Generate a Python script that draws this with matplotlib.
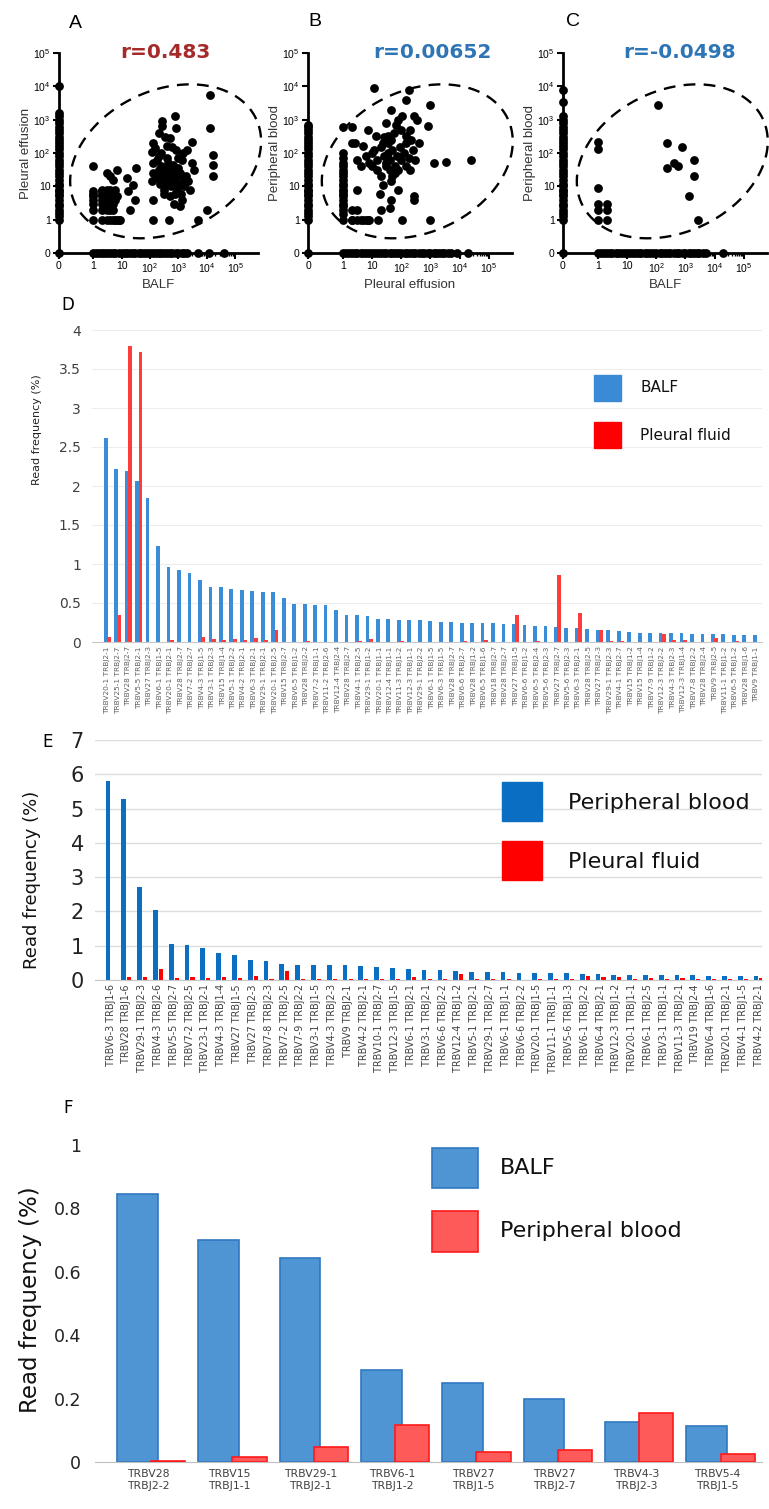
import numpy as np
import matplotlib
matplotlib.use('Agg')
import matplotlib.pyplot as plt
from matplotlib.patches import Rectangle

plt.rcParams['mathtext.fontset'] = 'custom'
plt.rcParams['mathtext.rm'] = 'Liberation Sans'
plt.rcParams['mathtext.it'] = 'Liberation Sans:italic'
plt.rcParams['mathtext.bf'] = 'Liberation Sans:bold'

# ---------------- data: scatter panels (read counts) ----------------
# Panel A: BALF (x) vs Pleural effusion (y)
A_x = [1,1,1,1,1,1,1,1, 2,2,2,2,2,2,2,2, 3,3,3,3,3,3,3,3,3, 4,4,4,4,4,4,4,4,4,
       5,5,5,5,5,5, 6,6,6, 7,7,7, 8, 9,
       15,33,26,17,30,20,
       130,120,200,130,130,120,130,130,270,270,750,850,500,390,250,170,
       580,1300,1500,3000,3500,3000,13000,13000,17000,17000,17000,10000,5000,450,1150,
       200,250,300,350,400,450,500,550,600,700,800,900,1000,1100,1200,1400,1600,1800,
       250,180,220,320,380,420,650,750,950,1300,2200,2500,700,500,300,
       800,600,400,150,1000,2000,350,200]
A_y = [1,2,3,4,5,6,7,40, 1,2,3,4,5,6,7,8, 1,2,3,4,5,6,7,8,25, 1,2,3,4,5,6,7,8,20,
       1,2,3,5,7,15, 1,4,8, 1,5,30, 1, 1,
       18,35,11,7,4,2,
       200,110,80,50,25,14,4,1,630,900,1250,560,280,160,100,60,
       40,63,100,220,30,50,5600,560,90,45,20,2,1,1,2.5,
       30,20,15,25,12,18,22,10,30,15,20,8,12,25,6,15,10,20,
       40,18,12,8,35,50,45,6,35,4,14,8,3,5,6,
       120,150,70,140,70,120,300,400]
A_x0_y = [1,1.3,1.6,2,2.5,3,4,5,6,7,8,10,12,15,20,25,30,40,50,60,80,100,130,160,
          200,250,300,400,500,600,800,1000,1300,1600,10000]
A_y0_x = [0,1,1.3,1.6,2,2.5,3,4,5,6,8,10,13,16,20,25,30,40,50,60,80,100,130,160,200,
          250,300,400,500,600,800,1000,1300,1600,2000,5000,12000,40000]

# Panel B: Pleural effusion (x) vs Peripheral blood (y)
B_x = [1,1,1,1,1,1,1,1,1,1,1,1,1,1,1,1,1,1,1,1,1, 2,2,2,2, 3,3,
       2,3,4,5,6,7,8,16,110,1000, 20,40,280,280,
       12,190,140,1000,44,110,280,360,800,
       7,14,34,57,100,140,210,2.5,5,12,23,34,410,
       1300,3400,25000, 20,23,44,18,44,75,
       3,4,6,8,10,15,20,25,30,40,50,60,70,80,90,100,120,150,180,200,250,300,
       40,50,60,30,15,10,35,45,25,150,200,65,30,80]
B_y = [1,1.5,2,2.5,3,4,5,6,7,8,10,12,15,20,25,30,40,50,70,100,600, 1,2,200,600, 8,2,
       1,1,1,1,1,1,1,1,1,1, 2,2.2,4,5,
       8900,8000,4000,2800,2000,1260,1260,1000,630,
       500,320,320,400,500,320,250,200,160,125,200,100,200,
       50,55,60, 20,11,14,6,4,8,
       60,40,80,50,100,60,150,80,50,60,120,40,80,30,150,60,100,40,70,30,120,60,
       30,20,25,40,30,40,200,250,300,200,500,700,800,1000]
B_x0_y = [0,1,1.3,1.6,2,2.5,3,4,5,6,7,8,10,12,15,20,25,30,40,50,60,80,100,130,160,
          200,250,300,400,500,600,700]
B_y0_x = [1,1.3,1.6,2,2.5,3,4,5,6,8,10,13,16,20,25,30,40,50,60,80,100,130,160,200,
          250,300,400,500,600,800,1000,1300,1600,2000,2500,3000,4000,5000,8000,20000]

# Panel C: BALF (x) vs Peripheral blood (y)
C_x = [1,1,1,1,1,1, 2,2,2, 115,240,750,240,420,560,2050,2050,1330,2700]
C_y = [220,130,9,3,2,1, 3,2,1, 2800,200,150,35,50,42,60,20,5,1]
C_x0_y = [0,1,1.3,1.6,2,2.5,3,4,5,6,7,8,10,12,15,20,25,30,40,50,60,80,100,130,160,
          200,250,300,400,500,600,800,1000,1300,3500,8000]
C_y0_x = [1,1.3,1.6,2,2.5,3,4,5,6,8,10,13,16,20,25,30,40,50,60,80,100,130,160,200,
          250,300,400,500,600,800,1000,1300,1600,2000,2500,3000,4000,5000,20000]

# ---------------- data: panel D ----------------
D_labels = ["TRBV20-1 TRBJ2-1","TRBV25-1 TRBJ2-7","TRBV28 TRBJ2-7","TRBV5-5 TRBJ2-1",
    "TRBV27 TRBJ2-3","TRBV6-1 TRBJ1-5","TRBV20-1 TRBJ2-1","TRBV28 TRBJ2-7","TRBV7-2 TRBJ2-7",
    "TRBV4-3 TRBJ1-5","TRBV3-1 TRBJ2-3","TRBV15 TRBJ1-4","TRBV5-1 TRBJ2-2","TRBV4-2 TRBJ2-1",
    "TRBV6-3 TRBJ2-1","TRBV29-1 TRBJ2-1","TRBV20-1 TRBJ2-5","TRBV15 TRBJ2-7","TRBV6-5 TRBJ1-2",
    "TRBV28 TRBJ2-2","TRBV7-2 TRBJ1-1","TRBV11-2 TRBJ2-6","TRBV12-4 TRBJ2-4","TRBV28 TRBJ2-7",
    "TRBV4-1 TRBJ2-5","TRBV29-1 TRBJ1-2","TRBV20-1 TRBJ1-1","TRBV12-4 TRBJ1-1","TRBV11-3 TRBJ1-2",
    "TRBV12-3 TRBJ1-1","TRBV29-1 TRBJ2-2","TRBV6-1 TRBJ1-5","TRBV6-3 TRBJ1-5","TRBV28 TRBJ2-7",
    "TRBV6-6 TRBJ2-7","TRBV28 TRBJ1-2","TRBV6-5 TRBJ1-6","TRBV18 TRBJ2-7","TRBV28 TRBJ2-7",
    "TRBV27 TRBJ1-5","TRBV6-6 TRBJ1-2","TRBV6-5 TRBJ2-4","TRBV5-6 TRBJ2-3","TRBV27 TRBJ2-7",
    "TRBV5-6 TRBJ2-3","TRBV6-3 TRBJ2-1","TRBV28 TRBJ2-5","TRBV27 TRBJ2-3","TRBV29-1 TRBJ2-3",
    "TRBV4-1 TRBJ2-7","TRBV15 TRBJ1-2","TRBV15 TRBJ1-4","TRBV7-9 TRBJ1-2","TRBV12-3 TRBJ2-2",
    "TRBV4-3 TRBJ2-3","TRBV12-3 TRBJ1-4","TRBV7-8 TRBJ2-2","TRBV28 TRBJ2-4","TRBV9 TRBJ2-5",
    "TRBV11-1 TRBJ1-2","TRBV6-5 TRBJ1-2","TRBV28 TRBJ1-6","TRBV9 TRBJ1-1"]
D_balf = [2.61,2.22,2.19,2.07,1.85,1.23,0.96,0.92,0.89,0.80,0.71,0.70,0.68,0.67,0.66,0.64,
          0.64,0.56,0.49,0.49,0.48,0.47,0.41,
          0.35,0.35,0.33,0.30,0.29,0.28,0.28,0.28,0.27,0.26,0.26,0.25,0.25,0.25,0.24,0.235,
          0.235,0.22,0.205,0.205,0.19,0.18,0.18,0.17,0.16,0.155,0.145,0.13,0.12,0.12,0.12,
          0.115,0.115,0.107,0.107,0.10,0.10,0.094,0.09,0.09]
D_pleural = [0.06,0.35,3.8,3.72,0,0,0.03,0,0,0.06,0.04,0.03,0.04,0.02,0.05,0.02,0.15,0,0,
             0.01,0,0,0,
             0,0.01,0.035,0,0,0.01,0,0,0,0,0,0.01,0,0.03,0,0,0.34,0,0.01,0,0.86,0,0.376,0,
             0.16,0.01,0.015,0,0,0,0.107,0.02,0.02,0,0,0.055,0,0.01,0,0]

# ---------------- data: panel E ----------------
E_labels = ["TRBV6-3 TRBJ1-6","TRBV28 TRBJ1-6","TRBV29-1 TRBJ2-3","TRBV4-3 TRBJ2-6",
    "TRBV5-5 TRBJ2-7","TRBV7-2 TRBJ2-5","TRBV23-1 TRBJ2-1","TRBV4-3 TRBJ1-4","TRBV27 TRBJ1-5",
    "TRBV27 TRBJ2-3","TRBV7-8 TRBJ2-3","TRBV7-2 TRBJ2-5","TRBV7-9 TRBJ2-2","TRBV3-1 TRBJ1-5",
    "TRBV4-3 TRBJ2-3","TRBV9 TRBJ2-1","TRBV4-2 TRBJ2-1","TRBV10-1 TRBJ2-7","TRBV12-3 TRBJ1-5",
    "TRBV6-1 TRBJ2-1","TRBV3-1 TRBJ2-1","TRBV6-6 TRBJ2-2","TRBV12-4 TRBJ1-2","TRBV5-1 TRBJ2-1",
    "TRBV29-1 TRBJ2-7","TRBV6-1 TRBJ1-1","TRBV6-6 TRBJ2-2","TRBV20-1 TRBJ1-5","TRBV11-1 TRBJ1-1",
    "TRBV5-6 TRBJ1-3","TRBV6-1 TRBJ2-2","TRBV6-4 TRBJ2-1","TRBV12-3 TRBJ1-2","TRBV20-1 TRBJ1-1",
    "TRBV6-1 TRBJ2-5","TRBV3-1 TRBJ1-1","TRBV11-3 TRBJ2-1","TRBV19 TRBJ2-4","TRBV6-4 TRBJ1-6",
    "TRBV20-1 TRBJ2-1","TRBV4-1 TRBJ1-5","TRBV4-2 TRBJ2-1"]
E_blood = [5.8,5.28,2.71,2.05,1.05,1.02,0.92,0.8,0.72,0.57,0.55,0.47,0.45,0.45,0.44,0.44,
           0.42,0.37,0.36,0.33,0.3,0.28,0.27,0.24,0.23,0.22,0.21,0.2,0.2,0.19,0.18,0.17,
           0.16,0.16,0.16,0.15,0.14,0.14,0.13,0.13,0.12,0.11]
E_pleural = [0,0.1,0.08,0.32,0.05,0.1,0.06,0.1,0.05,0.12,0.04,0.25,0.04,0.03,0.03,0.02,
             0.02,0.03,0.03,0.08,0.03,0.02,0.18,0.03,0.02,0.02,0.01,0.02,0.04,0.03,0.12,
             0.1,0.1,0.03,0.05,0.02,0.05,0.04,0.02,0.02,0.03,0.05]

# ---------------- data: panel F ----------------
F_labels = ["TRBV28\nTRBJ2-2","TRBV15\nTRBJ1-1","TRBV29-1\nTRBJ2-1","TRBV6-1\nTRBJ1-2",
            "TRBV27\nTRBJ1-5","TRBV27\nTRBJ2-7","TRBV4-3\nTRBJ2-3","TRBV5-4\nTRBJ1-5"]
F_balf = [0.845,0.70,0.645,0.29,0.25,0.20,0.125,0.115]
F_blood = [0.003,0.015,0.048,0.118,0.03,0.038,0.155,0.025]

# ---------------- figure ----------------
W, H = 769, 1509
fig = plt.figure(figsize=(W / 100, H / 100), dpi=100)


def rect(x0, y0, x1, y1):
    return [x0 / W, 1 - y1 / H, (x1 - x0) / W, (y1 - y0) / H]


def fx(px):
    return px / W


def fy(py):
    return 1 - py / H


XZ, YZ, XMAX, YMAX = -1.2, -1.0, 5.8, 5.0


def tu(v, z):
    v = np.asarray(v, float)
    out = np.full(v.shape, z)
    m = v > 0
    out[m] = np.log10(v[m])
    return out


SANS = ['Liberation Sans', 'DejaVu Sans']


def scatter_panel(r, xs, ys, x0y, y0x, xlab, ylab, letter, lxy, rtxt, rcol, rxy):
    ax = fig.add_axes(rect(*r))
    ax.scatter(tu(xs, XZ), tu(ys, YZ), s=40, c='black', linewidths=0, clip_on=False, zorder=3)
    ax.scatter(np.full(len(x0y), XZ), tu(x0y, YZ), s=40, c='black', linewidths=0,
               clip_on=False, zorder=3)
    ax.scatter(tu(y0x, XZ), np.full(len(y0x), YZ), s=40, c='black', linewidths=0,
               clip_on=False, zorder=3)
    ax.set_xlim(XZ, XMAX)
    ax.set_ylim(YZ, YMAX)
    for s in ['top', 'right']:
        ax.spines[s].set_visible(False)
    for s in ['left', 'bottom']:
        ax.spines[s].set_linewidth(2.0)
    ax.set_xticks([XZ, 0, 1, 2, 3, 4, 5])
    ax.set_xticklabels(['0', '1', '10', '$10^2$', '$10^3$', '$10^4$', '$10^5$'], family=SANS)
    ax.set_yticks([YZ, 0, 1, 2, 3, 4, 5])
    ax.set_yticklabels(['0', '1', '10', '$10^2$', '$10^3$', '$10^4$', '$10^5$'], family=SANS)
    minors = [np.log10(k * 10 ** d) for d in range(0, 5) for k in range(2, 10)]
    ax.set_xticks(minors, minor=True)
    ax.tick_params(which='major', length=4, width=1.5, labelsize=7.5, pad=2, color='black')
    ax.tick_params(which='minor', length=2.5, width=1.0)
    ax.set_xlabel(xlab, fontsize=9.5, family=SANS, color='#333333', labelpad=3)
    ax.set_ylabel(ylab, fontsize=9.5, family=SANS, color='#333333', labelpad=1)
    # dashed ellipse (annotation), defined in pixels around a centre in log units
    bb = ax.get_position()
    sx = bb.width * W / (XMAX - XZ)
    sy = bb.height * H / (YMAX - YZ)
    cx, cy, a, b, th = 2.55, 1.75, 100.0, 71.0, np.deg2rad(25)
    ph = np.linspace(0, 2 * np.pi, 300)
    ex = cx + (a * np.cos(th) * np.cos(ph) - b * np.sin(th) * np.sin(ph)) / sx
    ey = cy + (a * np.sin(th) * np.cos(ph) + b * np.cos(th) * np.sin(ph)) / sy
    ax.plot(ex, ey, color='black', lw=1.7, ls=(0, (5, 3.5)), clip_on=False, zorder=2)
    fig.text(fx(lxy[0]), fy(lxy[1]), letter, fontsize=14, family=SANS, ha='center', va='center')
    fig.text(fx(rxy[0]), fy(rxy[1]), rtxt, fontsize=14.5, fontweight='bold', color=rcol,
             family='DejaVu Sans', ha='center', va='center')
    return ax


scatter_panel((59, 53, 258, 253), A_x, A_y, A_x0_y, A_y0_x, 'BALF', 'Pleural effusion',
              'A', (75, 23), 'r=0.483', '#a52a2a', (165, 53))
scatter_panel((308, 53, 512, 253), B_x, B_y, B_x0_y, B_y0_x, 'Pleural effusion',
              'Peripheral blood', 'B', (315, 22), 'r=0.00652', '#2e75b6', (432, 53))
scatter_panel((563, 53, 767, 253), C_x, C_y, C_x0_y, C_y0_x, 'BALF', 'Peripheral blood',
              'C', (573, 22), 'r=-0.0498', '#2e75b6', (680, 53))

# ---------------- panel D ----------------
axD = fig.add_axes(rect(92, 330, 762, 642))
xd = np.arange(len(D_balf))
axD.bar(xd, D_balf, width=0.36, color='#3c8dd8', zorder=2)
axD.bar(xd + 0.32, D_pleural, width=0.36, color='#ff3c3c', zorder=2)
axD.set_xlim(-1.31, len(D_balf) - 0.31)
axD.set_ylim(0, 4)
axD.set_yticks(np.arange(0, 4.01, 0.5))
axD.set_yticklabels(['0', '0.5', '1', '1.5', '2', '2.5', '3', '3.5', '4'])
axD.grid(axis='y', color='#ededed', lw=0.8, zorder=0)
axD.set_axisbelow(True)
for s in ['top', 'right', 'left']:
    axD.spines[s].set_visible(False)
axD.spines['bottom'].set_color('#c8c8c8')
axD.set_xticks(xd + 0.16)
axD.set_xticklabels(D_labels, rotation=90, fontsize=5.3, color='#606060')
axD.tick_params(axis='x', length=0, pad=3)
axD.tick_params(axis='y', length=0, labelsize=10, colors='#404040', pad=8)
fig.text(fx(37), fy(430), 'Read frequency (%)', rotation=90, fontsize=8, ha='center',
         va='center', color='#222222')
fig.text(fx(68), fy(305), 'D', fontsize=12, ha='center', va='center')
fig.add_artist(Rectangle((fx(594), fy(401)), 27 / W, 26 / H, transform=fig.transFigure,
                         color='#3b8ad6'))
fig.add_artist(Rectangle((fx(594), fy(448)), 27 / W, 26 / H, transform=fig.transFigure,
                         color='#ff0000'))
fig.text(fx(640), fy(388), 'BALF', fontsize=11, va='center', color='#111111')
fig.text(fx(640), fy(435), 'Pleural fluid', fontsize=11, va='center', color='#111111')

# ---------------- panel E ----------------
axE = fig.add_axes(rect(95, 740, 762, 980))
xe = np.arange(len(E_blood))
axE.bar(xe, E_blood, width=0.3, color='#0a6fc2', zorder=2)
axE.bar(xe + 0.35, E_pleural, width=0.26, color='#ff0000', zorder=2)
axE.set_xlim(-0.82, len(E_blood) - 0.62)
axE.set_ylim(0, 7)
axE.set_yticks(range(0, 8))
axE.grid(axis='y', color='#dcdcdc', lw=1.0, zorder=0)
axE.set_axisbelow(True)
for s in ['top', 'right', 'left']:
    axE.spines[s].set_visible(False)
axE.spines['bottom'].set_color('#c8c8c8')
axE.set_xticks(xe + 0.17)
axE.set_xticklabels(E_labels, rotation=90, fontsize=6.9, color='#404040')
axE.tick_params(axis='x', length=0, pad=3)
axE.tick_params(axis='y', length=0, labelsize=15, colors='#222222', pad=8)
fig.text(fx(32), fy(880), 'Read frequency (%)', rotation=90, fontsize=13, ha='center',
         va='center', color='#111111')
fig.text(fx(48), fy(742), 'E', fontsize=12, ha='center', va='center')
fig.add_artist(Rectangle((fx(502), fy(821)), 40 / W, 39 / H, transform=fig.transFigure,
                         color='#0a6fc2'))
fig.add_artist(Rectangle((fx(502), fy(880)), 40 / W, 39 / H, transform=fig.transFigure,
                         color='#ff0000'))
fig.text(fx(568), fy(803), 'Peripheral blood', fontsize=16, va='center', color='#111111')
fig.text(fx(568), fy(862), 'Pleural fluid', fontsize=16, va='center', color='#111111')

# ---------------- panel F ----------------
axF = fig.add_axes(rect(95, 1145, 762, 1462))
xf = np.arange(len(F_balf))
axF.bar(xf - 0.08, F_balf, width=0.5, color='#4f95d3', edgecolor='#2f78c0', lw=1.2, zorder=2)
axF.bar(xf + 0.3, F_blood, width=0.42, color='#ff5a5a', edgecolor='#ff1a1a', lw=1.2, zorder=3)
axF.set_xlim(-0.6, len(F_balf) - 0.4)
axF.set_ylim(0, 1)
axF.set_yticks(np.arange(0, 1.01, 0.2))
axF.set_yticklabels(['0', '0.2', '0.4', '0.6', '0.8', '1'])
for s in ['top', 'right', 'left']:
    axF.spines[s].set_visible(False)
axF.spines['bottom'].set_color('#bfbfbf')
axF.set_xticks(xf + 0.05)
axF.set_xticklabels(F_labels, fontsize=7.8, color='#404040', linespacing=1.3)
axF.tick_params(axis='x', length=0, pad=5)
axF.tick_params(axis='y', length=0, labelsize=12.5, colors='#222222', pad=10)
fig.text(fx(30), fy(1300), 'Read frequency (%)', rotation=90, fontsize=16.5, ha='center',
         va='center', color='#111111')
fig.text(fx(68), fy(1108), 'F', fontsize=12, ha='center', va='center')
fig.add_artist(Rectangle((fx(432), fy(1188)), 46 / W, 40 / H, transform=fig.transFigure,
                         facecolor='#4f95d3', edgecolor='#2f78c0', lw=1.2))
fig.add_artist(Rectangle((fx(432), fy(1252)), 46 / W, 41 / H, transform=fig.transFigure,
                         facecolor='#ff5a5a', edgecolor='#ff1a1a', lw=1.2))
fig.text(fx(500), fy(1168), 'BALF', fontsize=16, va='center', color='#111111')
fig.text(fx(500), fy(1231), 'Peripheral blood', fontsize=16, va='center', color='#111111')

fig.savefig('out.png', dpi=100)
